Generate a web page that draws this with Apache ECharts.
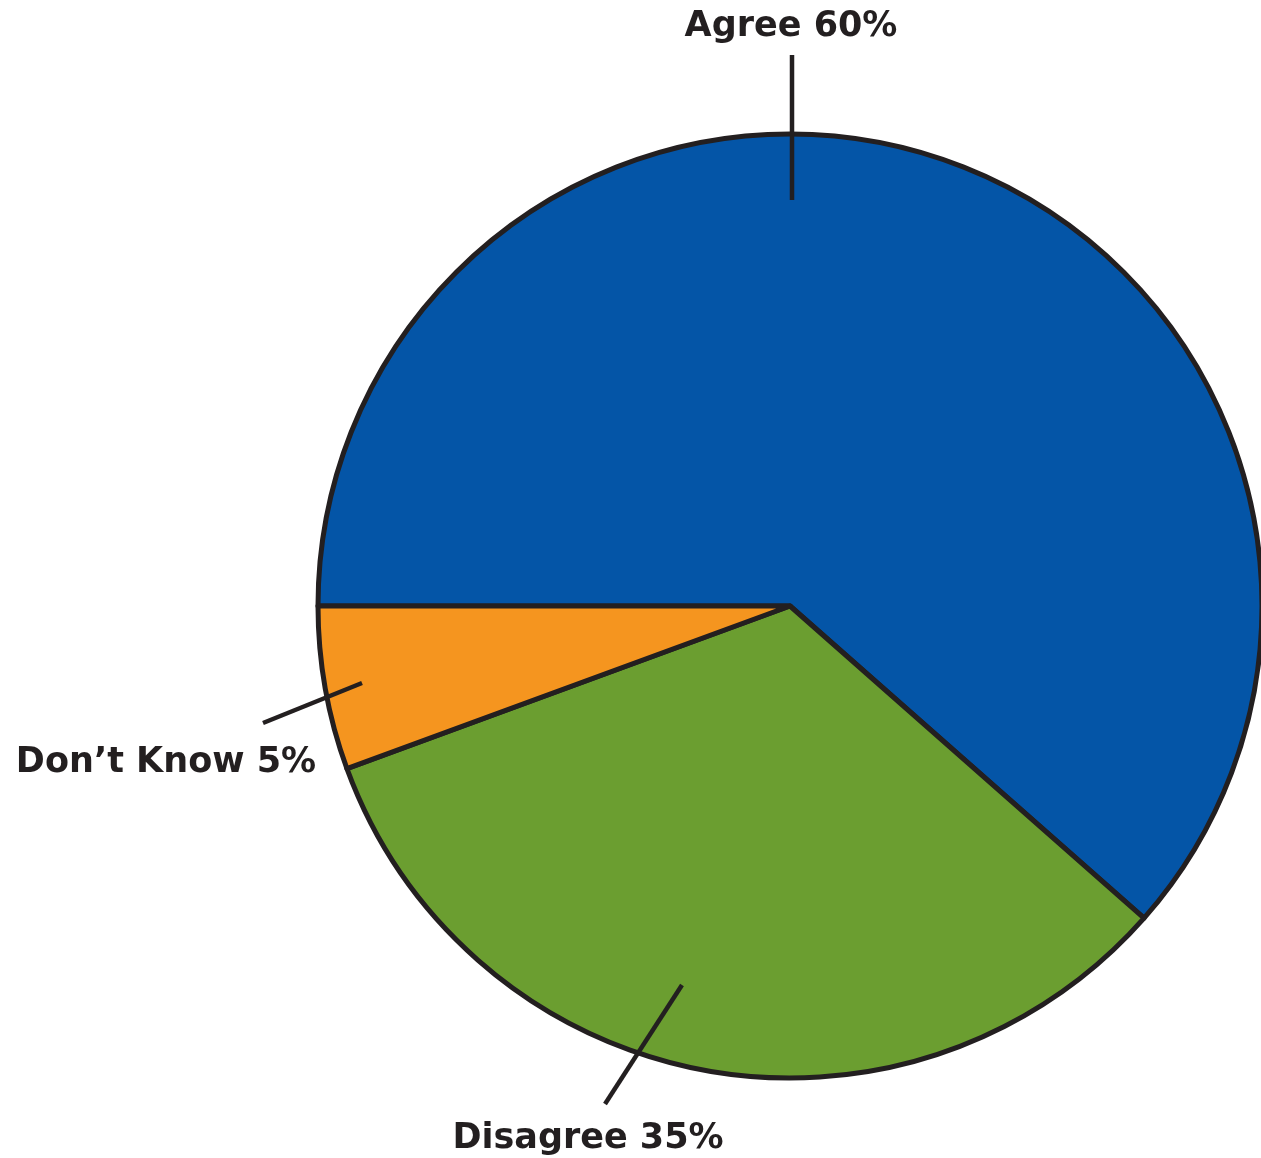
<!DOCTYPE html>
<html>
<head>
<meta charset="utf-8">
<script src="https://cdn.jsdelivr.net/npm/echarts@6/dist/echarts.min.js"></script>
<style>
html,body{margin:0;padding:0;background:#fff;}
#chart{width:1261px;height:1158px;}
</style>
</head>
<body>
<div id="chart"></div>
<script>
// Data
const categories = ['Agree', 'Disagree', 'Don\u2019t Know'];
const values = [61.5, 32.9, 5.6];
const labelTexts = ['Agree 60%', 'Disagree 35%', 'Don\u2019t Know 5%'];

// Styling / layout (kept separate from data)
const colors = ['#0455A7', '#6B9E30', '#F5951F'];
const ink = '#231f20';
const labelPos = [
  { x: 791, y: 27, line: [[792, 200], [792, 55]] },
  { x: 588, y: 1139, line: [[682, 985], [605, 1104]] },
  { x: 166, y: 763, line: [[362, 683], [263, 723]] }
];

const pieBase = {
  type: 'pie',
  center: [790, 606],
  radius: [0, 472],
  startAngle: 180,
  clockwise: true,
  avoidLabelOverlap: false,
  silent: true
};

const chart = echarts.init(document.getElementById('chart'));
chart.setOption({
  backgroundColor: '#ffffff',
  animation: false,
  series: [
    Object.assign({}, pieBase, {
      z: 2,
      itemStyle: { borderColor: ink, borderWidth: 5 },
      label: { show: false },
      labelLine: { show: false },
      data: categories.map((c, i) => ({
        name: c,
        value: values[i],
        itemStyle: { color: colors[i] }
      }))
    }),
    Object.assign({}, pieBase, {
      z: 5,
      itemStyle: { color: 'rgba(0,0,0,0)', borderWidth: 0 },
      label: {
        show: true,
        position: 'outside',
        color: ink,
        fontFamily: 'DejaVu Sans',
        fontWeight: 'bold',
        fontSize: 35,
        formatter: p => labelTexts[p.dataIndex]
      },
      labelLine: {
        show: true,
        lineStyle: { color: ink, width: 4.5 }
      },
      labelLayout: function (params) {
        const lp = labelPos[params.dataIndex];
        return {
          x: lp.x,
          y: lp.y,
          align: 'center',
          verticalAlign: 'middle',
          labelLinePoints: [lp.line[0], lp.line[1], lp.line[1]]
        };
      },
      data: categories.map((c, i) => ({ name: c, value: values[i] }))
    })
  ]
});
</script>
</body>
</html>
